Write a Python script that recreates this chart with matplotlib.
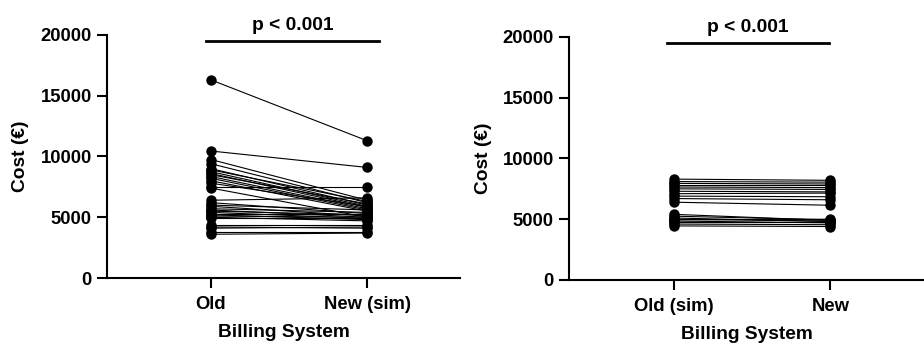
import matplotlib.pyplot as plt

plt.rcParams['font.family'] = ['Liberation Sans', 'DejaVu Sans']
plt.rcParams['font.weight'] = 'bold'

# left panel: old billing vs simulated new billing
left_labels = ["Old", "New (sim)"]
left_old = [16300, 10450, 9750, 9400, 9000, 8900, 8750, 8600, 8500, 8350,
            8200, 8000, 7800, 7500, 7400, 6400, 6200, 6000, 5900, 5700,
            5600, 5500, 5400, 5300, 5200, 5100, 5000, 4900, 4400, 4200,
            4100, 3800, 3600]
left_new = [11300, 9100, 6400, 6200, 6000, 6300, 5900, 5800, 6100, 5700,
            5600, 5500, 5900, 7500, 5000, 6600, 5300, 5600, 5100, 5400,
            5000, 5200, 4900, 5300, 4800, 5000, 4700, 4900, 4400, 4100,
            4200, 3800, 3700]

# right panel: simulated old billing vs new billing
right_labels = ["Old (sim)", "New"]
right_old = [8300, 8100, 7950, 7800, 7650, 7500, 7300, 7100, 6900, 6700,
             6400, 5400, 5250, 5100, 5000, 4950, 4850, 4750, 4600, 4450]
right_new = [8200, 8050, 7900, 7800, 7600, 7450, 7250, 7150, 6850, 6600,
             6150, 4900, 4950, 4800, 4850, 5000, 4700, 4750, 4550, 4400]

p_text = "p < 0.001"


def paired_panel(ax, labels, before, after, bar_x, xlim):
    for a, b in zip(before, after):
        ax.plot([0, 1], [a, b], color='black', lw=0.8, marker='o',
                markersize=7.5, markeredgewidth=0, zorder=3, clip_on=False)
    ax.set_xlim(*xlim)
    ax.set_ylim(0, 20000)
    ax.set_yticks([0, 5000, 10000, 15000, 20000])
    ax.set_xticks([0, 1])
    ax.set_xticklabels(labels)
    for s in ['top', 'right']:
        ax.spines[s].set_visible(False)
    for s in ['left', 'bottom']:
        ax.spines[s].set_linewidth(1.5)
    ax.tick_params(axis='both', width=1.5, length=7, labelsize=13.3, pad=4)
    ax.tick_params(axis='x', pad=6)
    ax.set_xlabel("Billing System", fontsize=13.8, fontweight='bold', labelpad=8)
    ax.set_ylabel("Cost (€)", fontsize=13.8, fontweight='bold', labelpad=8)
    # significance bar
    ax.plot(bar_x, [19500, 19500], color='black', lw=2, clip_on=False)
    ax.text(sum(bar_x) / 2, 20100, p_text, ha='center', va='bottom',
            fontsize=13.8, fontweight='bold')


fig = plt.figure(figsize=(9.24, 3.46), dpi=100)

ax1 = fig.add_axes([0.1158, 0.1965, 0.382, 0.7025])
paired_panel(ax1, left_labels, left_old, left_new, [-0.03, 1.08], (-0.667, 1.596))

ax2 = fig.add_axes([0.616, 0.1908, 0.384, 0.7025])
paired_panel(ax2, right_labels, right_old, right_new, [-0.045, 0.99], (-0.673, 1.60))

fig.savefig("out.png", dpi=100)
